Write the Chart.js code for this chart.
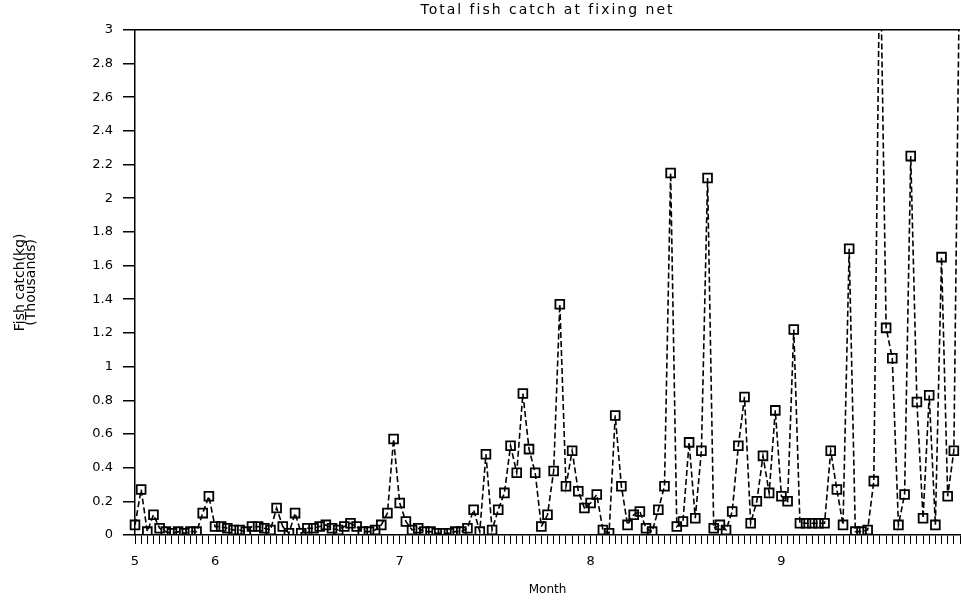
<!DOCTYPE html>
<html>
<head>
<meta charset="utf-8">
<title>Total fish catch at fixing net</title>
<script src="https://cdn.jsdelivr.net/npm/chart.js@4/dist/chart.umd.min.js"></script>
<style>
  html, body { margin: 0; padding: 0; background: #fff; overflow: hidden; }
  canvas { display: block; }
</style>
</head>
<body>
<!-- canvas is a few pixels wider than the page so the plot's automatic
     right-hand padding falls outside the visible area -->
<canvas id="c" width="968" height="603"></canvas>
<script>
// Month tick labels and how many daily observations fall in each month
const monthTicks = ['5', '6', '7', '8', '9'];
const monthDays = [13, 30, 31, 31, 30];
const firstDay = 19; // series starts on 19 May

// Daily total catch, thousands of kg (values above 3 run off the top of the frame)
const catchValues = [
  0.06, 0.27, 0.02, 0.12, 0.04, 0.02, 0.01, 0.02, 0.01, 0.02,
  0.02, 0.13, 0.23, 0.05, 0.05, 0.04, 0.03, 0.03, 0.02, 0.05,
  0.05, 0.04, 0.03, 0.16, 0.05, 0.01, 0.13, 0.01, 0.04, 0.04,
  0.05, 0.06, 0.04, 0.03, 0.05, 0.07, 0.05, 0.02, 0.02, 0.03,
  0.06, 0.13, 0.57, 0.19, 0.08, 0.03, 0.04, 0.02, 0.02, 0.01,
  0.01, 0.01, 0.02, 0.02, 0.04, 0.15, 0.02, 0.48, 0.03, 0.15,
  0.25, 0.53, 0.37, 0.84, 0.51, 0.37, 0.05, 0.12, 0.38, 1.37,
  0.29, 0.50, 0.26, 0.16, 0.19, 0.24, 0.03, 0.01, 0.71, 0.29,
  0.06, 0.12, 0.14, 0.04, 0.02, 0.15, 0.29, 2.15, 0.05, 0.08,
  0.55, 0.10, 0.50, 2.12, 0.04, 0.06, 0.03, 0.14, 0.53, 0.82,
  0.07, 0.20, 0.47, 0.25, 0.74, 0.23, 0.20, 1.22, 0.07, 0.07,
  0.07, 0.07, 0.07, 0.50, 0.27, 0.06, 1.70, 0.02, 0.02, 0.03,
  0.32, 3.60, 1.23, 1.05, 0.06, 0.24, 2.25, 0.79, 0.10, 0.83,
  0.06, 1.65, 0.23, 0.50, 3.60
];

// Build one category per day and remember where each month begins
const categories = [];
const monthStart = {};
monthTicks.forEach((m, k) => {
  const start = k === 0 ? firstDay : 1;
  monthStart[categories.length] = m;
  for (let d = 0; d < monthDays[k]; d++) categories.push(m + '/' + (start + d));
});

const FONT = 'DejaVu Sans';

// Frame line along the top of the plotting area; title centred over the plot
// and drawn with a little extra letter spacing
const framePlugin = {
  id: 'frame',
  afterLayout(chart) {
    const t = chart.titleBlock;
    if (!t) return;
    t.left = chart.chartArea.left;
    t.right = chart.chartArea.right;
    if (!t._spaced) {
      const draw = t.draw.bind(t);
      t.draw = function () {
        const ctx = chart.ctx;
        ctx.save();
        if ('letterSpacing' in ctx) ctx.letterSpacing = '2px';
        draw();
        ctx.restore();
      };
      t._spaced = true;
    }
  },
  afterDraw(chart) {
    const { ctx, chartArea } = chart;
    ctx.save();
    ctx.strokeStyle = '#000';
    ctx.lineWidth = 1.5;
    ctx.beginPath();
    ctx.moveTo(chartArea.left, chartArea.top);
    ctx.lineTo(chartArea.right, chartArea.top);
    ctx.stroke();
    ctx.restore();
  }
};

new Chart(document.getElementById('c'), {
  type: 'line',
  data: {
    labels: categories,
    datasets: [{
      label: 'Total catch',
      data: catchValues,
      borderColor: '#000',
      borderWidth: 1.6,
      borderDash: [6, 3],
      tension: 0,
      pointStyle: 'rect',
      pointRadius: 6.2,
      pointBorderWidth: 1.8,
      pointBorderColor: '#000',
      pointBackgroundColor: 'rgba(0,0,0,0)',
      fill: false
    }]
  },
  options: {
    responsive: false,
    animation: false,
    layout: { padding: { top: 0, right: 0, bottom: 0, left: 0 } },
    plugins: {
      legend: { display: false },
      tooltip: { enabled: false },
      title: {
        display: true,
        text: 'Total fish catch at fixing net',
        color: '#000',
        font: { family: FONT, size: 14, weight: 'normal' },
        padding: { top: 2, bottom: 11 }
      }
    },
    scales: {
      x: {
        type: 'category',
        offset: false,
        afterFit(s) { s.height = 68; s.paddingLeft = 0; s.paddingRight = 0; },
        border: { color: '#000', width: 1.5 },
        grid: { drawOnChartArea: false, color: '#000', tickLength: 9, lineWidth: 1 },
        ticks: {
          autoSkip: false,
          maxRotation: 0,
          minRotation: 0,
          padding: 10,
          color: '#000',
          font: { family: FONT, size: 13 },
          callback: (v, i) => (monthStart[i] !== undefined ? monthStart[i] : '')
        },
        title: {
          display: true,
          text: 'Month',
          color: '#000',
          font: { family: FONT, size: 12 },
          padding: { top: 0, bottom: 6 }
        }
      },
      y: {
        min: 0,
        max: 3,
        afterFit(s) { s.width = 135; },
        border: { color: '#000', width: 1.5 },
        grid: { drawOnChartArea: false, color: '#000', tickLength: 12, lineWidth: 1.5 },
        ticks: {
          stepSize: 0.2,
          padding: 10,
          color: '#000',
          font: { family: FONT, size: 13 },
          callback: v => String(Number(v.toFixed(1)))
        },
        title: {
          display: true,
          text: ['Fish catch(kg)', '(Thousands)'],
          color: '#000',
          font: { family: FONT, size: 14, lineHeight: 0.85 },
          padding: { top: 14, bottom: 0 }
        }
      }
    }
  },
  plugins: [framePlugin]
});
</script>
</body>
</html>
